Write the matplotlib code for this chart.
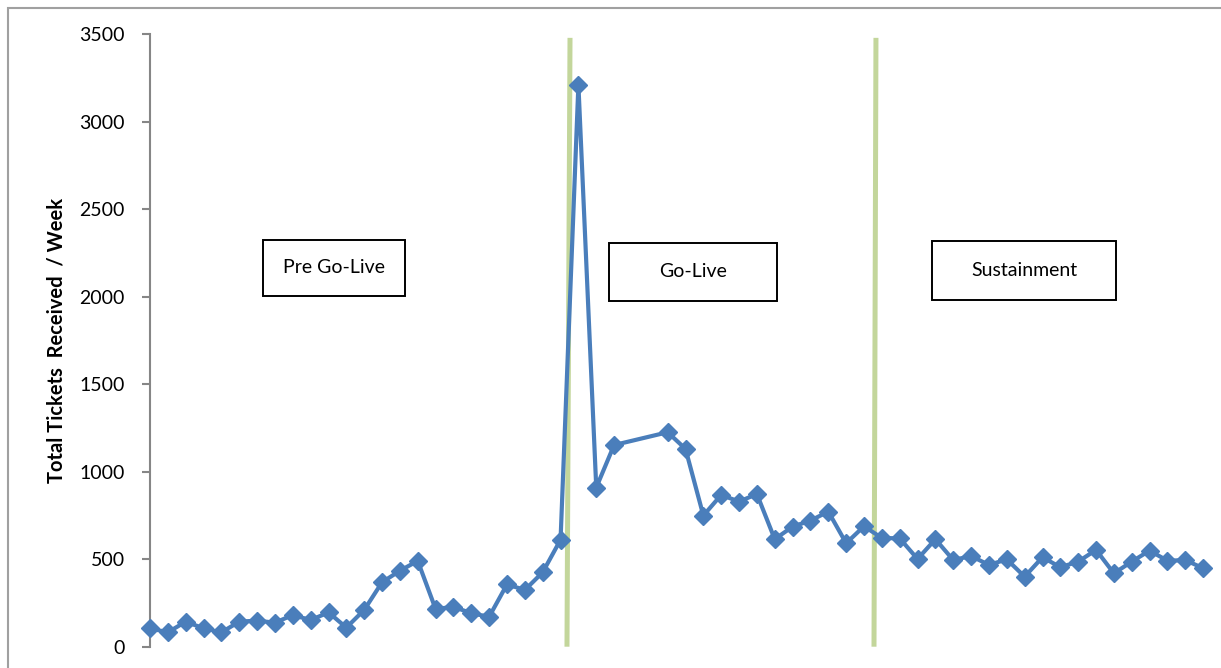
import numpy as np
import matplotlib
matplotlib.use("Agg")
import matplotlib.pyplot as plt
from matplotlib.patches import Rectangle

plt.rcParams['font.family'] = ['Lato', 'DejaVu Sans']

# weekly ticket counts (weeks 27 and 28 have no data)
weeks = list(range(60))
tickets = [105, 82, 143, 105, 82, 143, 149, 137, 181, 152,
           196, 109, 210, 368, 434, 490, 215, 228, 191, 171,
           356, 324, 425, 611, 3210, 909, 1152, np.nan, np.nan, 1225,
           1130, 749, 867, 829, 872, 614, 686, 720, 772, 591,
           688, 621, 619, 501, 614, 495, 518, 467, 499, 400,
           511, 454, 486, 553, 419, 486, 549, 491, 495, 448]

phase_labels = ["Pre Go-Live", "Go-Live", "Sustainment"]
# (x0, x1, y0, y1) of each label box, in data units
phase_boxes = [(6.33, 14.29, 2004, 2324),
               (25.71, 35.13, 1975, 2307),
               (43.81, 54.12, 1981, 2318)]
# separator lines: (x top, x bottom)
separators = [(23.53, 23.36), (40.67, 40.56)]

blue = '#4A7EBB'
green = '#C3D69B'
grey = '#868686'

fig = plt.figure(figsize=(12.21, 6.68), dpi=100)
ax = fig.add_axes([150 / 1221, 21.3 / 668, 1071 / 1221, 612.7 / 668])

x = np.array(weeks, dtype=float)
y = np.array(tickets, dtype=float)
ok = ~np.isnan(y)
ax.plot(x[ok], y[ok], color=blue, lw=3, marker='D', ms=9.5,
        markeredgecolor=blue, zorder=3, clip_on=False)

for xt, xb in separators:
    ax.plot([xt, xb], [3478, 0], color=green, lw=3.6, zorder=2,
            solid_capstyle='butt', clip_on=False)

for (x0, x1, y0, y1), lab in zip(phase_boxes, phase_labels):
    ax.add_patch(Rectangle((x0, y0), x1 - x0, y1 - y0, facecolor='white',
                           edgecolor='black', lw=1.4, zorder=4))
    ax.text((x0 + x1) / 2, (y0 + y1) / 2, lab, ha='center', va='center',
            fontsize=14, zorder=5)

ax.set_xlim(0, 60)
ax.set_ylim(0, 3500)
ax.set_yticks(np.arange(0, 3501, 500))
ax.set_xticks([])
for s in ['top', 'right', 'bottom']:
    ax.spines[s].set_visible(False)
ax.spines['left'].set_color(grey)
ax.spines['left'].set_linewidth(1.5)
ax.tick_params(axis='y', direction='out', length=6, width=1.5, color=grey,
               labelsize=14, pad=12)
ax.set_ylabel("Total Tickets  Received  / Week", fontsize=14.5,
              fontweight='bold', labelpad=9)

# chart area border (cut by the image edge on the right and bottom)
fig.add_artist(Rectangle((8 / 1221, -0.1), 1.2, (668 - 8) / 668 + 0.1,
                         transform=fig.transFigure, fill=False,
                         edgecolor='#A0A0A0', lw=1.5))

fig.savefig('out.png', dpi=100)
